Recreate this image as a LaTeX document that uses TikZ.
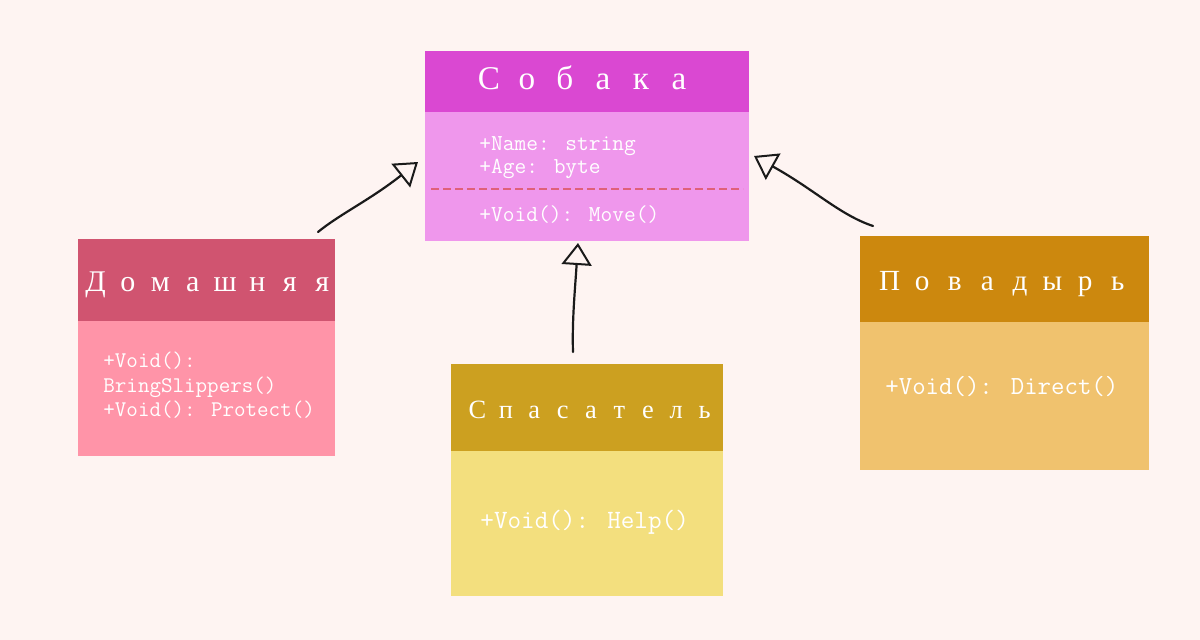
\documentclass[tikz,border=0pt]{standalone}
\usepackage{fontspec}
\setmainfont{Liberation Serif}
\usetikzlibrary{arrows.meta}
\definecolor{bg}{HTML}{FEF4F2}
\definecolor{sobH}{HTML}{DA48D2}
\definecolor{sobB}{HTML}{EF97EC}
\definecolor{dashc}{HTML}{E0607A}
\definecolor{domH}{HTML}{D05470}
\definecolor{domB}{HTML}{FF94A8}
\definecolor{spaH}{HTML}{CCA020}
\definecolor{spaB}{HTML}{F3DF7E}
\definecolor{povH}{HTML}{CC880E}
\definecolor{povB}{HTML}{F0C26E}
\definecolor{ink}{HTML}{1A1A1A}
\def\chwd{10pt}
\newcommand\ch[1]{\hbox to \chwd{\hss#1\hss}}
\newcommand\pitch[1]{\def\chwd{#1}\spaceskip=#1 plus 0pt minus 0pt\relax}
\tikzset{
  box/.style={anchor=north west, inner sep=0pt, outer sep=0pt, draw=none},
  txt/.style={anchor=base west, inner sep=0pt, text=white},
  ttl/.style={txt, font=\fontsize{#1}{#1}\selectfont},
  mono/.style={txt, font=\ttfamily\fontsize{#1}{#1}\selectfont},
  inherit/.style={draw=ink, line width=1.1pt, line cap=round, line join=round,
    -{Triangle[open, length=11pt, width=15pt, line width=1pt]}},
}
\begin{document}
\begin{tikzpicture}[x=0.5pt, y=-0.5pt]
\fill[bg] (0,0) rectangle (1200,640);
\useasboundingbox (0,0) rectangle (1200,640);

% Собака
\node[box, fill=sobH, minimum width=162pt, minimum height=30.5pt] (sobH) at (425,51) {};
\node[box, fill=sobB, minimum width=162pt, minimum height=64.5pt] (sobB) at (425,112) {};
\node[ttl=16.6] (sobT) at (479,90) {\pitch{9.5pt}\ch{С} \ch{о} \ch{б} \ch{а} \ch{к} \ch{а}};
\node[mono=11.4] (sob1) at (479,151) {+Name: string};
\node[mono=11.4] (sob2) at (479,174) {+Age: byte};
\coordinate (dl) at (431,189);
\coordinate (dr) at (743,189);
\draw[dashc, line width=0.7pt, dash pattern=on 4pt off 2pt] (dl) -- (dr);
\node[mono=11.4] (sob3) at (479,222) {+Void(): Move()};

% Домашняя
\node[box, fill=domH, minimum width=128.5pt, minimum height=41pt] (domH) at (78,239) {};
\node[box, fill=domB, minimum width=128.5pt, minimum height=67.5pt] (domB) at (78,321) {};
\node[ttl=15] (domT) at (87,292) {\pitch{8.1pt}\ch{Д} \ch{о} \ch{м} \ch{а} \ch{ш} \ch{н} \ch{я} \ch{я}};
\node[mono=11.2] (dom1) at (103,368) {+Void():};
\node[mono=11.2] (dom2) at (103,393) {BringSlippers()};
\node[mono=11.2] (dom3) at (103,417) {+Void(): Protect()};

% Спасатель
\node[box, fill=spaH, minimum width=136pt, minimum height=43.5pt] (spaH) at (451,364) {};
\node[box, fill=spaB, minimum width=136pt, minimum height=72.5pt] (spaB) at (451,451) {};
\node[ttl=13.2] (spaT) at (470,419) {\pitch{7.1pt}\ch{С} \ch{п} \ch{а} \ch{с} \ch{а} \ch{т} \ch{е} \ch{л} \ch{ь}};
\node[mono=13.2] (spa1) at (480,529) {+Void(): Help()};

% Поводырь
\node[box, fill=povH, minimum width=144.5pt, minimum height=43pt] (povH) at (860,236) {};
\node[box, fill=povB, minimum width=144.5pt, minimum height=74pt] (povB) at (860,322) {};
\node[ttl=14.6] (povT) at (881,291) {\pitch{8.15pt}\ch{П} \ch{о} \ch{в} \ch{а} \ch{д} \ch{ы} \ch{р} \ch{ь}};
\node[mono=13.05] (pov1) at (885,395) {+Void(): Direct()};

% inheritance arrows
\coordinate (a1s) at (318,232);
\coordinate (a1e) at (418,162);
\coordinate (a2s) at (573,352);
\coordinate (a2e) at (578,243);
\coordinate (a3s) at (873,226);
\coordinate (a3e) at (754,156);
\draw[inherit] (a1s) .. controls (340,214) and (370,200) .. (a1e);
\draw[inherit] (a2s) .. controls (572,320) and (575,290) .. (a2e);
\draw[inherit] (a3s) .. controls (840,215) and (815,190) .. (a3e);
\end{tikzpicture}
\end{document}
